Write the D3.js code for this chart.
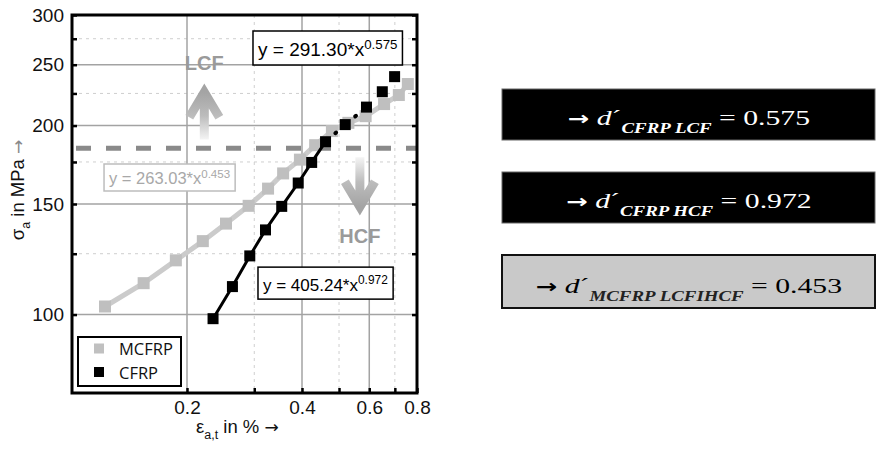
<!DOCTYPE html>
<html>
<head>
<meta charset="utf-8">
<script src="https://cdn.jsdelivr.net/npm/d3@7"></script>
<style>
body { margin: 0; background: #fff; }
svg { display: block; }
</style>
</head>
<body>
<div id="chart"></div>
<script>
// values (strain in %, stress amplitude in MPa)
const mcfrp_x = [0.122, 0.154, 0.187, 0.220, 0.253, 0.290, 0.326, 0.357, 0.395, 0.433, 0.479, 0.529, 0.587, 0.656, 0.717, 0.757];
const mcfrp_y = [103.0, 112.2, 122.0, 130.9, 139.6, 149.0, 158.7, 167.8, 176.5, 186.1, 196.0, 202.0, 207.0, 216.4, 223.7, 232.9];
const cfrp_x = [0.234, 0.263, 0.292, 0.321, 0.354, 0.391, 0.424, 0.461, 0.519, 0.590, 0.649, 0.699];
const cfrp_y = [98.5, 110.8, 124.0, 136.4, 148.7, 162.0, 174.7, 188.5, 200.7, 214.0, 226.4, 239.3];
const hcf_idx = [0, 7];   // solid fit through these CFRP points
const lcf_idx = [7, 9];   // dotted fit

const x_major = [0.2, 0.4, 0.6];
const x_minor = [0.3, 0.5, 0.7];
const x_labels = [0.2, 0.4, 0.6, 0.8];
const y_major = [100, 150, 200, 250];
const y_minor = [125, 175, 225, 275];
const y_labels = [100, 150, 200, 250, 300];
const threshold = 184;

const fit_text = ["y = 291.30*x", "y = 263.03*x", "y = 405.24*x"];
const fit_exp = ["0.575", "0.453", "0.972"];
const fit_at = [[0.2977, 282.9], [0.1213, 173.7], [0.3068, 119.0]];   // top-left corner of box

const zone_names = ["LCF", "HCF"];
const zone_text_at = [[0.222, 245], [0.567, 130]];
const zone_arrow = [[0.222, 190, 226], [0.567, 178, 148.5]];   // x, tail, tip

const legend_names = ["MCFRP", "CFRP"];

const d_sub = ["CFRP LCF", "CFRP HCF", "MCFRP LCFIHCF"];
const d_val = ["0.575", "0.972", "0.453"];

const W = 876, H = 453;
const plot = { top: 15, right: 417, bottom: 393, left: 72 };
const sans = "'Liberation Sans', Arial, sans-serif";
const arrowFont = "'DejaVu Sans', sans-serif";

const x = d3.scaleLog().domain([0.1, 0.8]).range([plot.left, plot.right]);
const y = d3.scaleLog().domain([75, 300]).range([plot.bottom, plot.top]);

const svg = d3.select("#chart").append("svg")
    .attr("width", W)
    .attr("height", H)
    .style("font-family", sans);

const defs = svg.append("defs");

// grid
let grid = svg.append("g");
grid.selectAll(".xminor").data(x_minor).enter().append("line")
    .attr("x1", d => x(d)).attr("x2", d => x(d))
    .attr("y1", plot.top).attr("y2", plot.bottom)
    .attr("stroke", "#cfcfcf").attr("stroke-dasharray", "3,4");
grid.selectAll(".yminor").data(y_minor).enter().append("line")
    .attr("x1", plot.left).attr("x2", plot.right)
    .attr("y1", d => y(d)).attr("y2", d => y(d))
    .attr("stroke", "#cfcfcf").attr("stroke-dasharray", "3,4");
grid.selectAll(".xmajor").data(x_major).enter().append("line")
    .attr("x1", d => x(d)).attr("x2", d => x(d))
    .attr("y1", plot.top).attr("y2", plot.bottom)
    .attr("stroke", "#a3a3a3").attr("stroke-width", 1.5);
grid.selectAll(".ymajor").data(y_major).enter().append("line")
    .attr("x1", plot.left).attr("x2", plot.right)
    .attr("y1", d => y(d)).attr("y2", d => y(d))
    .attr("stroke", "#a3a3a3").attr("stroke-width", 1.5);

// LCF / HCF border
svg.append("line")
    .attr("x1", x(0.1)).attr("x2", x(0.8))
    .attr("y1", y(threshold)).attr("y2", y(threshold))
    .attr("stroke", "#8a8a8a")
    .attr("stroke-width", 5)
    .attr("stroke-dasharray", "15,15")
    .attr("stroke-dashoffset", 26);

// arrows with fading shaft
zone_arrow.forEach(function (a, i) {
    let cx = x(a[0]), tail = y(a[1]), tip = y(a[2]);
    let dir = tip < tail ? 1 : -1;
    let gid = "fade" + i;
    let g = defs.append("linearGradient").attr("id", gid)
        .attr("gradientUnits", "userSpaceOnUse")
        .attr("x1", cx).attr("x2", cx).attr("y1", tail).attr("y2", tip);
    g.append("stop").attr("offset", "0%").attr("stop-color", "#f4f4f4");
    g.append("stop").attr("offset", "50%").attr("stop-color", "#bcbcbc");
    g.append("stop").attr("offset", "100%").attr("stop-color", "#a4a4a4");
    svg.append("path")
        .attr("d", "M" + cx + "," + tail + "L" + cx + "," + tip
            + "M" + (cx - 15) + "," + (tip + dir * 25) + "L" + cx + "," + tip + "L" + (cx + 15) + "," + (tip + dir * 25))
        .attr("fill", "none")
        .attr("stroke", "url(#" + gid + ")")
        .attr("stroke-width", 9);
});

svg.selectAll(".zone").data(zone_names).enter().append("text")
    .attr("x", (d, i) => x(zone_text_at[i][0]))
    .attr("y", (d, i) => y(zone_text_at[i][1]))
    .attr("text-anchor", "middle")
    .attr("font-size", 20)
    .attr("font-weight", "bold")
    .attr("fill", "#9a9a9a")
    .text(d => d);

// series
let line = d3.line().x(d => x(d[0])).y(d => y(d[1]));
let mcfrp = mcfrp_x.map((v, i) => [v, mcfrp_y[i]]);
let cfrp = cfrp_x.map((v, i) => [v, cfrp_y[i]]);

svg.append("path").datum(mcfrp)
    .attr("d", line)
    .attr("fill", "none")
    .attr("stroke", "#cbcbcb")
    .attr("stroke-width", 5);
svg.selectAll(".mc").data(mcfrp).enter().append("rect")
    .attr("x", d => x(d[0]) - 6).attr("y", d => y(d[1]) - 6)
    .attr("width", 12).attr("height", 12)
    .attr("fill", "#bfbfbf");

svg.append("path").datum(cfrp.slice(hcf_idx[0], hcf_idx[1] + 1))
    .attr("d", line)
    .attr("fill", "none")
    .attr("stroke", "#000")
    .attr("stroke-width", 3);
svg.append("path").datum(cfrp.slice(lcf_idx[0], lcf_idx[1] + 1))
    .attr("d", line)
    .attr("fill", "none")
    .attr("stroke", "#000")
    .attr("stroke-width", 4)
    .attr("stroke-linecap", "round")
    .attr("stroke-dasharray", "1,12");
svg.selectAll(".cf").data(cfrp).enter().append("rect")
    .attr("x", d => x(d[0]) - 5.5).attr("y", d => y(d[1]) - 5.5)
    .attr("width", 11).attr("height", 11)
    .attr("fill", "#000");

// fit equations
const fit_size = [19, 16.5, 17];
const fit_h = [34, 27, 32];
const fit_col = ["#000", "#a8a8a8", "#000"];
const fit_border = ["#000", "#bdbdbd", "#000"];
fit_text.forEach(function (t, i) {
    let bx = x(fit_at[i][0]), by = y(fit_at[i][1]);
    let g = svg.append("g");
    let r = g.append("rect");
    let tx = g.append("text")
        .attr("x", bx + 5)
        .attr("y", by + fit_h[i] * 0.74)
        .attr("font-size", fit_size[i])
        .attr("fill", fit_col[i]);
    tx.append("tspan").text(t);
    tx.append("tspan")
        .attr("font-size", fit_size[i] * 0.7)
        .attr("dy", -fit_size[i] * 0.38)
        .text(fit_exp[i]);
    let bb = tx.node().getBBox();
    r.attr("x", bx).attr("y", by)
        .attr("width", bb.width + 10).attr("height", fit_h[i])
        .attr("fill", "#fff")
        .attr("stroke", fit_border[i])
        .attr("stroke-width", 1.5);
});

// axes (inward ticks)
let yAxis = d3.axisLeft(y)
    .tickValues(y_labels.concat(y_minor))
    .tickFormat(d => y_labels.indexOf(d) >= 0 ? d : "")
    .tickSizeInner(-5).tickSizeOuter(0).tickPadding(8);
let gy = svg.append("g").attr("transform", "translate(" + plot.left + ",0)").call(yAxis);

let yAxisR = d3.axisRight(y)
    .tickValues(y_labels.concat(y_minor))
    .tickFormat("")
    .tickSizeInner(-5).tickSizeOuter(0);
let gyr = svg.append("g").attr("transform", "translate(" + plot.right + ",0)").call(yAxisR);

let xAxis = d3.axisBottom(x)
    .tickValues(x_labels.concat(x_minor))
    .tickFormat(d => x_labels.indexOf(d) >= 0 ? d : "")
    .tickSizeInner(-5).tickSizeOuter(0).tickPadding(8);
let gx = svg.append("g").attr("transform", "translate(0," + plot.bottom + ")").call(xAxis);

[gx, gy, gyr].forEach(function (g) {
    g.select(".domain").remove();
    g.attr("font-family", sans).attr("font-size", 19);
    g.selectAll(".tick line").attr("stroke", "#000").attr("stroke-width", 2.5);
    g.selectAll("text").attr("fill", "#111");
});

// frame
svg.append("rect")
    .attr("x", plot.left).attr("y", plot.top)
    .attr("width", plot.right - plot.left).attr("height", plot.bottom - plot.top)
    .attr("fill", "none")
    .attr("stroke", "#000")
    .attr("stroke-width", 3);

// legend
let lg = svg.append("g").attr("transform", "translate(" + (plot.left + 6) + "," + (plot.bottom - 56) + ")");
lg.append("rect")
    .attr("width", 103).attr("height", 49)
    .attr("fill", "#fff")
    .attr("stroke", "#000")
    .attr("stroke-width", 2);
lg.selectAll(".sw").data(legend_names).enter().append("rect")
    .attr("x", 16).attr("y", (d, i) => 6.5 + i * 23.5)
    .attr("width", 10).attr("height", 10)
    .attr("fill", (d, i) => i == 0 ? "#c0c0c0" : "#000");
lg.selectAll(".lt").data(legend_names).enter().append("text")
    .attr("x", 41).attr("y", (d, i) => 18 + i * 23.5)
    .attr("font-family", "'Open Sans', sans-serif")
    .attr("font-size", 16.5)
    .attr("fill", "#111")
    .text(d => d);

// axis titles
let xt = svg.append("text")
    .attr("x", 196).attr("y", 433)
    .attr("font-size", 18.5)
    .attr("fill", "#111");
xt.append("tspan").text("ε");
xt.append("tspan").attr("font-size", 12.5).attr("dy", 6).text("a,t");
xt.append("tspan").attr("dy", -6).text(" in %  ");
xt.append("tspan").attr("font-family", arrowFont).attr("font-size", 17).text("→");

let yt = svg.append("text")
    .attr("transform", "translate(24,190) rotate(-90)")
    .attr("text-anchor", "middle")
    .attr("font-size", 18.5)
    .attr("fill", "#111");
yt.append("tspan").text("σ");
yt.append("tspan").attr("font-size", 12.5).attr("dy", 6).text("a");
yt.append("tspan").attr("dy", -6).text(" in MPa ");
yt.append("tspan").attr("font-family", arrowFont).attr("font-size", 17).attr("fill", "#888").text("→");

// exponent summary boxes
const box_top = [89, 172, 255];
const box_h = [51, 51, 53];
const box_left = 502;
d_sub.forEach(function (s, i) {
    let dark = i < 2;
    svg.append("rect")
        .attr("x", box_left).attr("y", box_top[i])
        .attr("width", W - box_left - 1).attr("height", box_h[i])
        .attr("fill", dark ? "#000" : "#c9c9c9")
        .attr("stroke", dark ? "#666" : "#111")
        .attr("stroke-width", dark ? 1 : 2);
    let t = svg.append("text")
        .attr("font-family", "'Liberation Serif', 'Times New Roman', serif")
        .attr("font-size", 22)
        .attr("fill", dark ? "#fff" : "#000");
    t.append("tspan").attr("font-family", arrowFont).attr("font-weight", "bold").attr("font-size", 19).text("→");
    t.append("tspan").text(" ");
    t.append("tspan").attr("font-style", "italic").text("d");
    t.append("tspan").text("´");
    t.append("tspan")
        .attr("font-style", "italic").attr("font-weight", "bold")
        .attr("font-size", 14).attr("dy", 8)
        .attr("fill", dark ? "#fff" : "#222")
        .text(s);
    t.append("tspan").attr("dy", -8).text(" = " + d_val[i]);
    let w = t.node().getBBox().width;
    let sc = 1.35;
    let cx = box_left + (W - box_left) / 2;
    t.attr("transform", "translate(" + (cx - sc * w / 2) + "," + (box_top[i] + box_h[i] * 0.71) + ") scale(" + sc + ",1)");
});
</script>
</body>
</html>
